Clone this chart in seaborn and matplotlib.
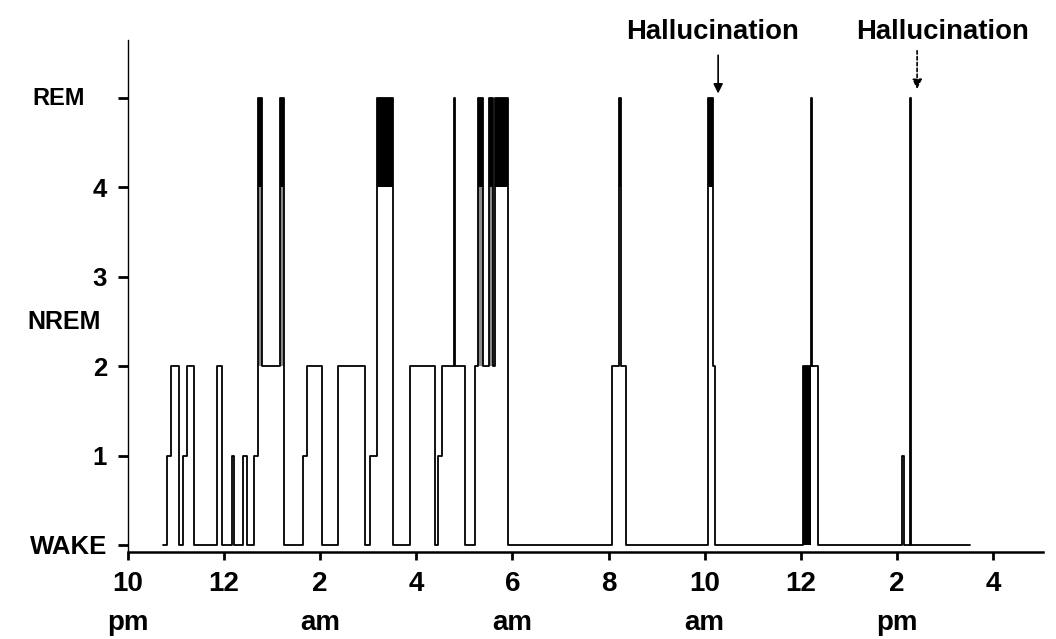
import numpy as np
import pandas as pd
import seaborn as sns
import matplotlib.pyplot as plt

# hypnogram: hours after 10 pm -> stage entered (0 wake, 1-4 NREM, 5 REM)
hours = [0.73, 0.81, 0.89, 1.06, 1.14, 1.23, 1.37, 1.85, 1.96, 2.16, 2.20, 2.39, 2.48,
         2.62, 2.70, 2.79, 3.16, 3.25, 3.64, 3.72, 4.04, 4.37, 4.93, 5.04, 5.18, 5.51,
         5.87, 6.39, 6.45, 6.53, 6.78, 6.81, 7.01, 7.22, 7.28, 7.39, 7.51, 7.59, 7.64,
         7.91, 10.07, 10.22, 10.25, 10.36, 12.07, 12.17, 12.21, 14.04, 14.21, 14.24,
         14.36, 16.10, 16.14, 16.27, 16.30, 17.52]
stage = [0, 1, 2, 0, 1, 2, 0, 2, 0, 1, 0, 1, 0,
         1, 5, 2, 5, 0, 1, 2, 0, 2, 0, 1, 5, 0,
         2, 0, 1, 2, 5, 2, 0, 2, 5, 2, 5, 2, 5,
         0, 2, 5, 2, 0, 5, 2, 0, 2, 5, 2,
         0, 1, 0, 5, 0, 0]

# stretches of rapid stage switching
grey_start = [2.70, 3.16, 7.28, 7.51]
grey_end = [2.79, 3.25, 7.39, 7.59]
dense_start = [14.04]
dense_end = [14.21]

halluc_hours = [12.28, 16.42]

tick_hours = [0, 2, 4, 6, 8, 10, 12, 14, 16, 18]
tick_labels = ["10\npm", "12", "2\nam", "4", "6\nam", "8", "10\nam", "12", "2\npm", "4"]
stage_ticks = [0, 1, 2, 3, 4, 5]
stage_labels = ["WAKE", "1", "2", "3", "4", ""]

sns.set_style("ticks", {"text.color": "black", "xtick.color": "black",
                        "ytick.color": "black", "axes.edgecolor": "black"})
plt.rcParams["font.family"] = ["Liberation Sans", "DejaVu Sans"]
plt.rcParams["font.weight"] = "bold"

df = pd.DataFrame({"hours": hours, "stage": stage})

fig = plt.figure(figsize=(10.56, 6.39), dpi=100)
ax = fig.add_axes([0.1212, 0.1362, 0.8665, 0.8013])

sns.lineplot(data=df, x="hours", y="stage", drawstyle="steps-post", estimator=None,
             color="black", lw=1.3, ax=ax)

# REM blocks (4 -> 5) drawn black
h = np.array(hours)
s = np.array(stage)
rem = np.where(s[:-1] == 5)[0]
ax.bar(h[rem], 1, width=h[rem + 1] - h[rem], bottom=4, align="edge", color="black",
       linewidth=0)
ax.bar(grey_start, 2, width=np.array(grey_end) - np.array(grey_start), bottom=2,
       align="edge", color="#8a8a8a", linewidth=0)
ax.bar(dense_start, 2, width=np.array(dense_end) - np.array(dense_start), bottom=0,
       align="edge", color="black", linewidth=0)

# hallucination markers
ax.annotate("", xy=(halluc_hours[0], 5.02), xytext=(halluc_hours[0], 5.51),
            arrowprops=dict(arrowstyle="-|>", color="black", lw=1.2, mutation_scale=14))
ax.annotate("", xy=(halluc_hours[1], 5.07), xytext=(halluc_hours[1], 5.56),
            arrowprops=dict(arrowstyle="-|>", color="black", lw=1.2, ls=(0, (2, 1.5)),
                            mutation_scale=14))
ax.text(12.17, 5.74, "Hallucination", ha="center", va="center", fontsize=19.8,
        fontweight="bold", clip_on=False)
ax.text(16.96, 5.74, "Hallucination", ha="center", va="center", fontsize=19.8,
        fontweight="bold", clip_on=False)

ax.set_xlim(0, 19.04)
ax.set_ylim(-0.078, 5.65)
ax.set_xticks(tick_hours)
ax.set_xticklabels(tick_labels, linespacing=1.62, fontsize=20, fontweight="bold")
ax.set_yticks(stage_ticks)
ax.set_yticklabels(stage_labels, fontsize=18.5, fontweight="bold")
ax.set_xlabel("")
ax.set_ylabel("")

trans = ax.get_yaxis_transform()
ax.text(-0.047, 5, "REM", transform=trans, ha="right", va="center", fontsize=17,
        fontweight="bold")
ax.text(-0.030, 2.49, "NREM", transform=trans, ha="right", va="center", fontsize=18,
        fontweight="bold")

sns.despine(ax=ax)
ax.spines["left"].set_linewidth(1.0)
ax.spines["bottom"].set_linewidth(1.8)
ax.tick_params(axis="y", length=7, width=2, pad=8, direction="out")
ax.tick_params(axis="x", length=6, width=2, pad=8, direction="out")

fig.savefig("out.png", dpi=100)
